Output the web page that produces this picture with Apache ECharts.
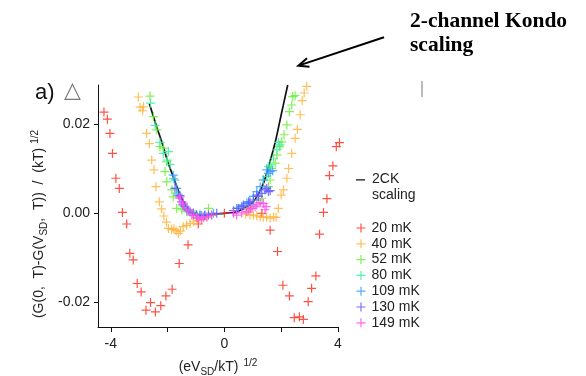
<!DOCTYPE html>
<html>
<head>
<meta charset="utf-8">
<script src="https://cdn.jsdelivr.net/npm/echarts@6/dist/echarts.min.js"></script>
<style>html,body{margin:0;padding:0;background:#fff;}#chart{width:586px;height:376px;}</style>
</head>
<body>
<div id="chart"></div>
<script>
// ---- data ----
var xTicks = [-4, -2, 0, 2, 4];
var xLabels = [-4, 0, 4];
var yTicks = [-0.02, 0, 0.02];

var ck2X = [-2.64, -2.4, -2.2, -2.0, -1.8, -1.6, -1.4, -1.2, -1.0, -0.8, -0.6, -0.4, -0.2, 0, 0.2, 0.4, 0.6, 0.8, 1.0, 1.2, 1.4, 1.6, 1.8, 2.0, 2.23];
var ck2Y = [0.0247, 0.0198, 0.0160, 0.0118, 0.0082, 0.0048, 0.0022, 0.0004, -0.0003, -0.0004, -0.0003, -0.0002, -0.0001, 0, 0.0001, 0.0003, 0.0008, 0.0015, 0.0025, 0.0044, 0.0072, 0.0115, 0.0163, 0.0222, 0.0289];

var red20 = [[-4.24,0.0228],[-4.12,0.0212],[-4.03,0.0180],[-3.94,0.0135],[-3.82,0.0079],[-3.70,0.0056],[-3.59,0.0002],[-3.44,-0.0024],[-3.33,-0.0090],[-3.21,-0.0105],[-3.07,-0.0158],[-2.93,-0.0177],[-2.76,-0.0218],[-2.60,-0.0201],[-2.43,-0.0222],[-2.24,-0.0208],[-2.06,-0.0186],[-1.84,-0.0171],[-1.59,-0.0113],[-1.28,-0.0071],[-0.92,-0.0024],[0.0,0.0],[0.91,0.0011],[1.32,0.0],[1.61,-0.0038],[1.87,-0.0086],[2.06,-0.0162],[2.29,-0.0186],[2.46,-0.0235],[2.64,-0.0233],[2.78,-0.0239],[2.95,-0.0199],[3.07,-0.0169],[3.22,-0.0141],[3.35,-0.0047],[3.49,0.0002],[3.61,0.0033],[3.70,0.0085],[3.82,0.0107],[3.94,0.0150],[4.05,0.0159]];
var orange40 = [[-3.03,0.0262],[-2.97,0.0239],[-2.88,0.0231],[-2.85,0.0240],[-2.74,0.0180],[-2.64,0.0157],[-2.56,0.0120],[-2.48,0.0098],[-2.41,0.0060],[-2.29,0.0026],[-2.21,0.0010],[-2.13,-0.0006],[-2.04,-0.0020],[-1.97,-0.0034],[-1.86,-0.0036],[-1.78,-0.0035],[-1.70,-0.0039],[-1.62,-0.0045],[-1.55,-0.0040],[-1.45,-0.0030],[-1.33,-0.0027],[-1.21,-0.0023],[-1.09,-0.0019],[-0.96,-0.0016],[-0.86,-0.0015],[-0.72,-0.0010],[-0.62,-0.0008],[-0.45,-0.0004],[0.75,-0.0002],[0.90,-0.0004],[1.02,-0.0004],[1.14,-0.0006],[1.26,-0.0008],[1.37,-0.0009],[1.49,-0.0008],[1.61,-0.0011],[1.73,-0.0008],[1.82,-0.0009],[1.90,0.0011],[2.00,0.0041],[2.08,0.0053],[2.20,0.0079],[2.26,0.0101],[2.37,0.0135],[2.49,0.0169],[2.57,0.0189],[2.67,0.0222],[2.74,0.0254],[2.81,0.0271],[2.90,0.0286]];
var green52 = [[-2.62,0.0264],[-2.50,0.0218],[-2.38,0.0188],[-2.27,0.0150],[-2.15,0.0147],[-2.09,0.0094],[-2.03,0.0116],[-2.03,0.0071],[-1.85,0.0053],[-1.80,0.0037],[-1.68,0.0011],[-1.50,0.0008],[-1.33,0.0004],[-1.03,-0.0002],[-0.56,0.0011],[0.79,0.0011],[1.20,0.0030],[1.32,0.0034],[1.55,0.0060],[1.61,0.0075],[1.67,0.0101],[1.79,0.0113],[1.85,0.0131],[1.94,0.0150],[2.02,0.0161],[2.10,0.0177],[2.20,0.0199],[2.29,0.0229],[2.37,0.0244],[2.41,0.0263],[2.49,0.0265]];
var mint80 = [[-2.60,0.0248],[-2.44,0.0198],[-2.27,0.0160],[-2.15,0.0135],[-2.01,0.0120],[-1.97,0.0139],[-1.91,0.0110],[-1.80,0.0078],[-1.66,0.0045],[-1.45,0.0017],[-1.21,0.0002],[-0.86,-0.0002],[1.02,0.0019],[1.37,0.0075],[1.49,0.0083],[1.55,0.0105],[1.61,0.0109],[1.73,0.0124],[1.85,0.0143],[1.90,0.0160],[1.96,0.0154]];
var blue109 = [[-1.80,0.0086],[-1.74,0.0075],[-1.68,0.0056],[-1.56,0.0040],[-1.45,0.0020],[-1.33,0.0010],[-1.21,0.0004],[-0.98,-0.0004],[-0.80,-0.0005],[-0.68,-0.0004],[-0.39,0.0000],[0.43,0.0011],[0.49,0.0011],[0.67,0.0019],[0.79,0.0023],[0.85,0.0026],[1.02,0.0038],[1.14,0.0049],[1.26,0.0060],[1.37,0.0075],[1.49,0.0098],[1.55,0.0090],[1.61,0.0094],[1.70,0.0096]];
var purple130 = [[-1.74,0.0056],[-1.62,0.0041],[-1.50,0.0026],[-1.39,0.0015],[-1.27,0.0007],[-1.09,0.0001],[-0.98,-0.0004],[-0.86,-0.0005],[-0.70,-0.0005],[-0.56,-0.0004],[-0.27,0.0000],[0.32,0.0006],[0.49,0.0011],[0.61,0.0015],[0.67,0.0017],[0.85,0.0023],[0.90,0.0026],[1.02,0.0030],[1.14,0.0041],[1.20,0.0038],[1.32,0.0045],[1.43,0.0053],[1.49,0.0056],[1.55,0.0049],[1.61,0.0051]];
var magenta149 = [[-1.59,0.0034],[-1.56,0.0037],[-1.47,0.0019],[-1.45,0.0023],[-1.33,0.0008],[-1.27,0.0007],[-1.15,-0.0004],[-1.09,-0.0004],[-0.98,-0.0009],[-0.92,-0.0011],[-0.80,-0.0014],[-0.74,-0.0008],[-0.62,-0.0008],[-0.45,-0.0004],[0.32,0.0000],[0.43,-0.0004],[0.61,0.0001],[0.79,0.0004],[0.85,0.0008],[0.97,0.0011],[1.08,0.0015],[1.14,0.0019],[1.26,0.0024],[1.37,0.0022],[1.43,0.0008],[1.47,0.0015]];

var seriesNames = ['20 mK', '40 mK', '52 mK', '80 mK', '109 mK', '130 mK', '149 mK'];
var seriesData = [red20, orange40, green52, mint80, blue109, purple130, magenta149];
var seriesColors = ['#ff3322', '#ffb43c', '#6aee3a', '#3cee9c', '#3a9cff', '#6258ff', '#ff4cec'];

// ---- chart ----
var FONT = 'Liberation Sans, Arial, sans-serif';
var PLUS = 'path://M3.9,0H5.1V3.9H9V5.1H5.1V9H3.9V5.1H0V3.9H3.9Z';
var chart = echarts.init(document.getElementById('chart'), null, {renderer: 'canvas'});

var ck2Data = ck2X.map(function (x, i) { return [x, ck2Y[i]]; });

var series = [{
  name: '2CK scaling',
  type: 'line',
  data: ck2Data,
  smooth: 0.3,
  showSymbol: false,
  symbol: 'none',
  lineStyle: {color: '#111', width: 1.7},
  itemStyle: {color: '#111'},
  z: 1
}];
seriesNames.forEach(function (n, i) {
  series.push({
    name: n,
    type: 'scatter',
    data: seriesData[i],
    symbol: PLUS,
    symbolSize: 9,
    clip: false,
    itemStyle: {color: seriesColors[i], opacity: 0.85},
    z: 2 + i
  });
});

function richSubSup(fs, sfs, supPad) {
  return {
    sub: {fontSize: sfs, fontFamily: FONT, color: '#222', verticalAlign: 'bottom', padding: [Math.round(fs / 2), 0, 0, 0]},
    sup: {fontSize: sfs, fontFamily: FONT, color: '#222', verticalAlign: 'top', padding: [0, 0, Math.round(fs * 0.65), supPad]}
  };
}

var option = {
  animation: false,
  backgroundColor: '#fff',
  grid: {left: 98, right: 248, top: 85, bottom: 49, containLabel: false, outerBoundsMode: 'none'},
  xAxis: {
    type: 'value', min: -4.45, max: 4,
    axisLine: {onZero: false, lineStyle: {color: '#111', width: 1}},
    axisTick: {show: true, length: 5, inside: false, customValues: xTicks, lineStyle: {color: '#111'}},
    axisLabel: {customValues: xLabels, margin: 10, color: '#222', fontFamily: FONT, fontSize: 14,
      formatter: function (v) { return String(v); }},
    splitLine: {show: false},
    name: '(eV{sub|SD}/kT){sup|1/2}',
    nameLocation: 'middle', nameGap: 31,
    nameTextStyle: {color: '#222', fontFamily: FONT, fontSize: 14, rich: richSubSup(14, 10, 5)}
  },
  yAxis: {
    type: 'value', min: -0.0256, max: 0.0289,
    axisLine: {show: true, onZero: false, lineStyle: {color: '#111', width: 1}},
    axisTick: {show: true, length: 4, inside: false, customValues: yTicks, lineStyle: {color: '#111'}},
    axisLabel: {customValues: yTicks, margin: 8, color: '#222', fontFamily: FONT, fontSize: 14,
      formatter: function (v) { var s = v.toFixed(2); return s === '-0.00' ? '0.00' : s; }},
    splitLine: {show: false},
    name: '(G(0,  T)-G(V{sub|SD},  T))  /  (kT){sup|1/2}',
    nameLocation: 'middle', nameGap: 49, nameRotate: 90,
    nameTextStyle: {color: '#222', fontFamily: FONT, fontSize: 14, padding: [0, 36, 0, 0], rich: richSubSup(14, 10, 4)}
  },
  legend: [{
    data: [{name: '2CK scaling', icon: 'path://M0,0H0.01V0.01H0Z M0,7.3H10V8.7H0Z M0,31.99H0.01V32H0Z'}],
    formatter: function () { return '2CK\nscaling'; },
    orient: 'vertical', left: 356, top: 171,
    itemWidth: 9, itemHeight: 32, padding: 0,
    textStyle: {color: '#222', fontFamily: FONT, fontSize: 14, lineHeight: 16, padding: [0, 0, 0, 2]},
    selectedMode: false
  }, {
    data: seriesNames.map(function (n) { return {name: n, icon: PLUS}; }),
    orient: 'vertical', left: 356.5, top: 221,
    itemWidth: 9, itemHeight: 9, itemGap: 1.8, padding: 0,
    textStyle: {color: '#222', fontFamily: FONT, fontSize: 14, lineHeight: 14, padding: [0, 0, 0, 1]},
    selectedMode: false
  }],
  graphic: [
    {type: 'text', left: 35, top: 82, style: {text: 'a)', fill: '#111', font: '22px ' + FONT}},
    {type: 'text', left: 64, top: 80, style: {text: '\u25B3', fill: '#777', font: '22px DejaVu Sans, sans-serif'}},
    {type: 'text', left: 410, top: 10, style: {text: '2-channel Kondo', fill: '#000', font: 'bold 21.5px Liberation Serif, Times New Roman, serif'}},
    {type: 'text', left: 410, top: 34, style: {text: 'scaling', fill: '#000', font: 'bold 21.5px Liberation Serif, Times New Roman, serif'}},
    {type: 'line', shape: {x1: 384, y1: 37.3, x2: 300, y2: 65.1}, style: {stroke: '#000', lineWidth: 2}},
    {type: 'polyline', shape: {points: [[307, 58.3], [298.3, 65.7], [309.5, 66.8]]}, style: {stroke: '#000', lineWidth: 2, fill: null}},
    {type: 'line', shape: {x1: 422, y1: 81, x2: 422, y2: 97}, style: {stroke: '#777', lineWidth: 1}}
  ],
  series: series
};
chart.setOption(option);
</script>
</body>
</html>
